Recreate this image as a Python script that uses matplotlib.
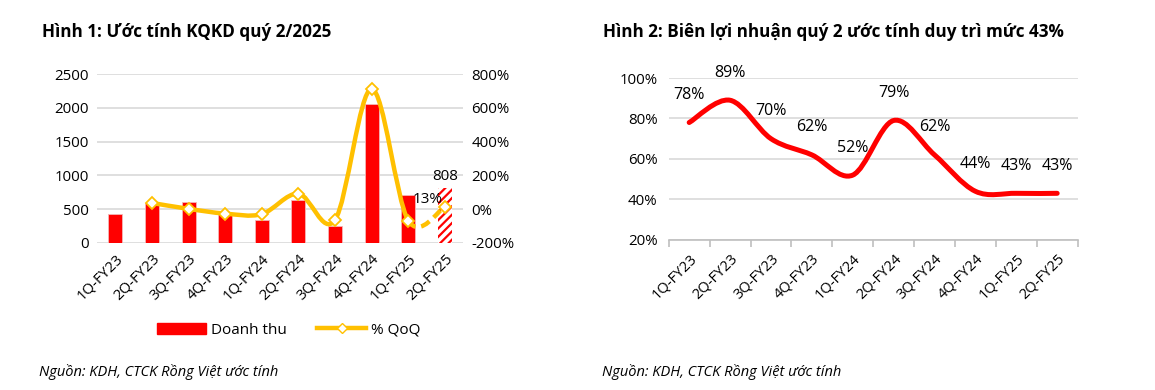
import matplotlib.pyplot as plt
import matplotlib.patches as mpatches
from matplotlib.path import Path
from matplotlib.lines import Line2D
import numpy as np

plt.rcParams['font.family'] = ['Open Sans', 'DejaVu Sans']
plt.rcParams['hatch.linewidth'] = 1.6
plt.rcParams['hatch.color'] = '#FF0000'

quarters = ['1Q-FY23', '2Q-FY23', '3Q-FY23', '4Q-FY23', '1Q-FY24',
            '2Q-FY24', '3Q-FY24', '4Q-FY24', '1Q-FY25', '2Q-FY25']
revenue = [426, 590, 613, 445, 333, 642, 255, 2058, 711, 808]
qoq = [np.nan, 37, 2, -26, -29, 92, -64, 713, -67, 14]
margin = [78, 89, 70, 62, 52, 79, 62, 44, 43, 43]

RED = '#FF0000'
YEL = '#FFC000'
GRID = '#D9D9D9'


def smooth_segments(xs, ys):
    # Excel-like smoothed line: cubic bezier through the points
    pts = list(zip(xs, ys))
    segs = []
    for i in range(len(pts) - 1):
        p0 = pts[i - 1] if i > 0 else pts[i]
        p1 = pts[i]
        p2 = pts[i + 1]
        p3 = pts[i + 2] if i + 2 < len(pts) else pts[i + 1]
        c1 = (p1[0] + (p2[0] - p0[0]) / 6, p1[1] + (p2[1] - p0[1]) / 6)
        c2 = (p2[0] - (p3[0] - p1[0]) / 6, p2[1] - (p3[1] - p1[1]) / 6)
        segs.append([p1, c1, c2, p2])
    return segs


def seg_path(segs):
    verts = [segs[0][0]]
    codes = [Path.MOVETO]
    for s in segs:
        verts += s[1:]
        codes += [Path.CURVE4] * 3
    return Path(verts, codes)


fig = plt.figure(figsize=(11.55, 3.9), dpi=100)

# ---------------- chart 1 ----------------
ax1 = fig.add_axes([0.084, 0.377, 0.317, 0.433])
x = np.arange(len(quarters))
ax1.bar(x[:-1], revenue[:-1], width=0.38, color=RED,
        edgecolor='#F4B6B6', linewidth=0.6, zorder=2)
ax1.bar(x[-1], revenue[-1], width=0.38, color='white', edgecolor=RED,
        hatch='////', linewidth=0, zorder=2)
ax1.set_ylim(0, 2500)
ax1.set_xlim(-0.5, 9.5)
ax1.set_yticks([0, 500, 1000, 1500, 2000, 2500])
ax1.yaxis.grid(True, color=GRID, linewidth=1.2, zorder=0)
ax1.set_axisbelow(True)
for s in ax1.spines.values():
    s.set_visible(False)
ax1.tick_params(length=0, labelsize=10.8, pad=6)
ax1.set_xticks(x)
ax1.set_xticklabels(quarters, rotation=45, ha='right', rotation_mode='anchor',
                    fontsize=10.8)
ax1.text(x[-1], revenue[-1] + 60, '808', ha='center', va='bottom', fontsize=11)

ax1b = ax1.twinx()
ax1b.set_ylim(-200, 800)
ax1b.set_yticks([-200, 0, 200, 400, 600, 800])
ax1b.set_yticklabels(['-200%', '0%', '200%', '400%', '600%', '800%'])
ax1b.tick_params(length=0, labelsize=10.8, pad=6)
for s in ax1b.spines.values():
    s.set_visible(False)
qx = x[1:]
qy = qoq[1:]
segs = smooth_segments(qx, qy)
ax1b.add_patch(mpatches.PathPatch(seg_path(segs[:-1]), fill=False,
                                  edgecolor=YEL, linewidth=3.2, zorder=3,
                                  capstyle='round'))
ax1b.add_patch(mpatches.PathPatch(seg_path(segs[-1:]), fill=False,
                                  edgecolor=YEL, linewidth=3.2, zorder=3,
                                  linestyle=(0, (2.2, 1.3))))
ax1b.plot(qx, qy, linestyle='none', marker='D', markersize=6,
          markerfacecolor='white', markeredgecolor=YEL, markeredgewidth=1.3,
          zorder=4)
ax1b.text(x[-1] - 0.47, qoq[-1] + 1, '13%', ha='center', va='bottom',
          fontsize=11)

h1 = mpatches.Patch(color=RED, label='Doanh thu')
h2 = Line2D([], [], color=YEL, linewidth=3.2, marker='D', markersize=5,
            markerfacecolor='white', markeredgecolor=YEL, label='% QoQ')
fig.legend(handles=[h1, h2], loc='center', bbox_to_anchor=(0.25, 0.153),
           ncol=2, frameon=False, fontsize=11, handlelength=3.2,
           handletextpad=0.3, columnspacing=2.0)

fig.text(0.036, 0.918, 'Hình 1: Ước tính KQKD quý 2/2025', fontsize=12.3,
         fontweight='bold', va='center')
fig.text(0.034, 0.046, 'Nguồn: KDH, CTCK Rồng Việt ước tính', fontsize=10.5,
         style='italic', va='center')

# ---------------- chart 2 ----------------
ax2 = fig.add_axes([0.579, 0.385, 0.354, 0.415])
ax2.set_xlim(-0.5, 9.5)
ax2.set_ylim(20, 100)
ax2.set_yticks([20, 40, 60, 80, 100])
ax2.set_yticklabels(['20%', '40%', '60%', '80%', '100%'])
ax2.yaxis.grid(True, color=GRID, linewidth=1.2, zorder=0)
ax2.set_axisbelow(True)
for k in ['top', 'right', 'left']:
    ax2.spines[k].set_visible(False)
ax2.spines['bottom'].set_color('#BFBFBF')
ax2.spines['bottom'].set_linewidth(1.2)
ax2.set_xticks(x)
ax2.set_xticklabels(quarters, rotation=45, ha='right', rotation_mode='anchor',
                    fontsize=10.5)
ax2.set_xticks(np.arange(-0.5, 10, 1), minor=True)
ax2.tick_params(axis='x', which='major', length=0, pad=8)
ax2.tick_params(axis='x', which='minor', length=5, color='#BFBFBF', width=1.2)
ax2.tick_params(axis='y', length=0, labelsize=10.8, pad=8)
ax2.add_patch(mpatches.PathPatch(seg_path(smooth_segments(x, margin)),
                                 fill=False, edgecolor=RED, linewidth=3.6,
                                 zorder=3, capstyle='round'))
for xi, v in zip(x, margin):
    ax2.annotate(f'{v}%', (xi, v), xytext=(0, 14), textcoords='offset points',
                 ha='center', va='bottom', fontsize=11.5)

fig.text(0.522, 0.918, 'Hình 2: Biên lợi nhuận quý 2 ước tính duy trì mức 43%',
         fontsize=12.3, fontweight='bold', va='center')
fig.text(0.521, 0.046, 'Nguồn: KDH, CTCK Rồng Việt ước tính', fontsize=10.5,
         style='italic', va='center')

fig.savefig('out.png', dpi=100)
